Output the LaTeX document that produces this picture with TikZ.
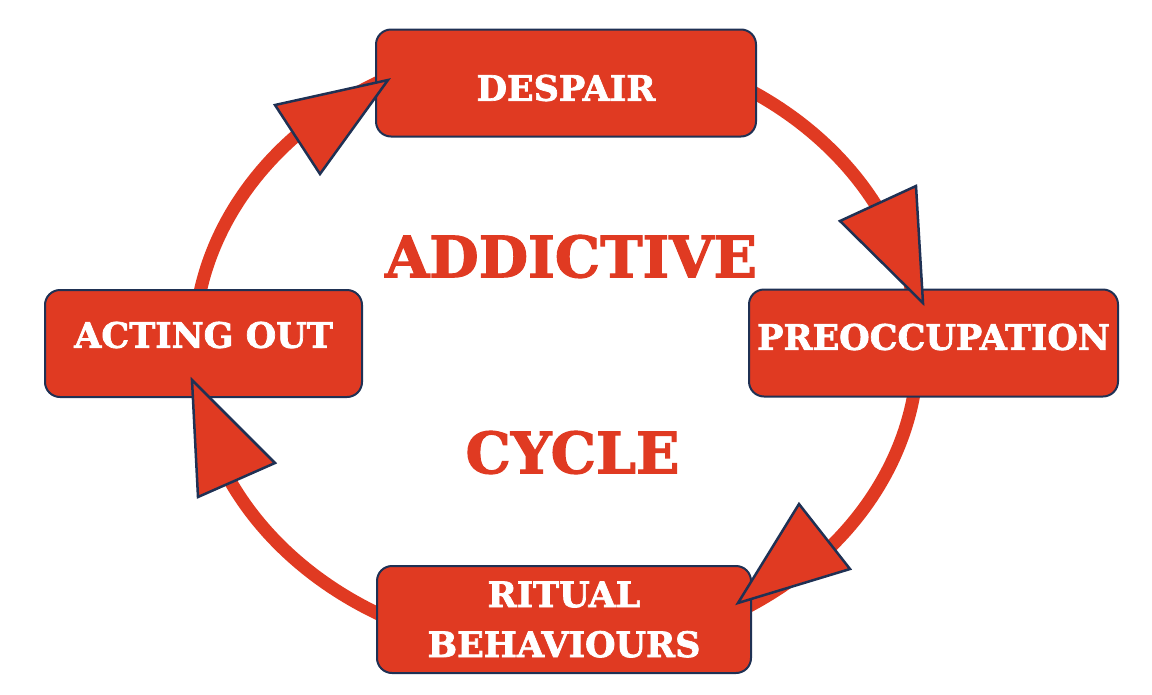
\documentclass[tikz,border=0pt]{standalone}
\usepackage{fontspec}
\setmainfont{DejaVu Serif}
\newfontfamily\heavyserif[FakeBold=2]{DejaVu Serif Bold}
\usepackage{xcolor}
\definecolor{cyclered}{HTML}{E03A22}
\definecolor{cycleedge}{HTML}{1F3154}

\begin{document}
\begin{tikzpicture}[
x=1pt, y=-1pt,
stagebox/.style={draw=cycleedge,
line width=2pt,
fill=cyclered,
rounded corners=15pt,
minimum height=107pt,
inner sep=0pt,
align=center,
text=white,
font=\fontsize{35}{50}\selectfont\heavyserif},
headtri/.style={draw=cycleedge, line width=2.5pt, fill=cyclered, line join=miter},
bigword/.style={text=cyclered, inner sep=0pt, font=\fontsize{57}{60}\selectfont\heavyserif}
]
\useasboundingbox (0,0) rectangle (1152,694);

% the loop behind the stages
\draw[cyclered, line width=13pt] (556,348) ellipse [x radius=362, y radius=305];

\node[stagebox, minimum width=380pt, text height=35.5pt, text depth=0pt] (despair) at (566,83) {DESPAIR};
\node[stagebox, minimum width=369pt, text height=25.5pt, text depth=12pt] (preocc) at (933.5,343) {PREOCCUPATION};
\node[stagebox, minimum width=374pt] (ritual) at (564,619.5) {RITUAL\\BEHAVIOURS};
\node[stagebox, minimum width=317pt, text height=25.5pt, text depth=17pt] (acting) at (203.5,343.5) {ACTING OUT};

% arrow heads
\draw[headtri] (275,105) -- (388,80) -- (320,174) -- cycle;
\draw[headtri] (840,221) -- (916,186) -- (923,303) -- cycle;
\draw[headtri] (738,603) -- (799,504) -- (850,569) -- cycle;
\draw[headtri] (192,380) -- (275,463) -- (198,497) -- cycle;

\node[bigword] (addictive) at (571,256.5) {ADDICTIVE};
\node[bigword] (cycle) at (572.5,452.5) {CYCLE};

\end{tikzpicture}
\end{document}
